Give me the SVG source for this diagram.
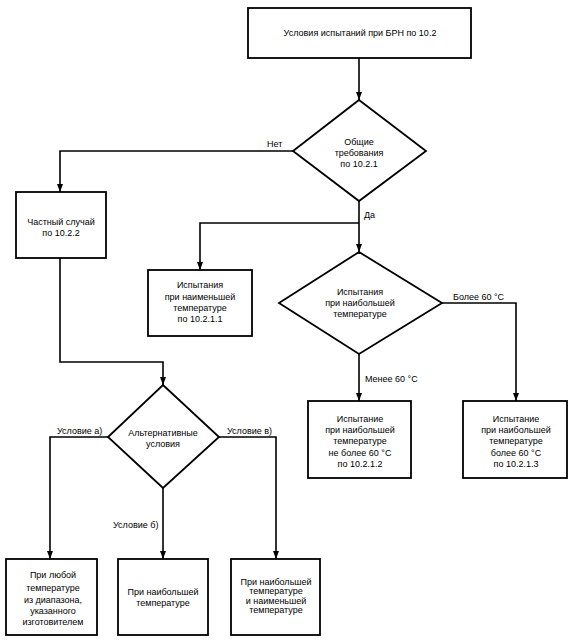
<svg xmlns="http://www.w3.org/2000/svg" width="574" height="642" viewBox="0 0 574 642">
<style>
.n{fill:#fff;stroke:#000;stroke-width:1.8}
.c{fill:none;stroke:#000;stroke-width:1.6}
text{font-family:"Liberation Sans",Arial,sans-serif;font-size:9px;fill:#000}
.m{text-anchor:middle}
</style>
<defs>
<marker id="a" viewBox="0 0 8 6" refX="8" refY="3" markerWidth="8" markerHeight="6" markerUnits="userSpaceOnUse" orient="auto">
<path d="M0,0 L8,3 L0,6 z" fill="#000"/>
</marker>
</defs>
<rect width="574" height="642" fill="#fff"/>
<g id="connectors">
<path class="c" d="M359,58 V100" marker-end="url(#a)"/>
<path class="c" d="M293,151 H60 V192" marker-end="url(#a)"/>
<path class="c" d="M359,201 V252" marker-end="url(#a)"/>
<path class="c" d="M359,223 H200 V270" marker-end="url(#a)"/>
<path class="c" d="M442,303 H516 V401" marker-end="url(#a)"/>
<path class="c" d="M359,354 V401" marker-end="url(#a)"/>
<path class="c" d="M60,258 V362 H163 V385" marker-end="url(#a)"/>
<path class="c" d="M108,437 H50 V559" marker-end="url(#a)"/>
<path class="c" d="M163,488 V559" marker-end="url(#a)"/>
<path class="c" d="M219,437 H276 V559" marker-end="url(#a)"/>
<text x="267" y="147">Нет</text>
<text x="364" y="218">Да</text>
<text x="453" y="300">Более 60 °C</text>
<text x="365" y="382">Менее 60 °C</text>
<text x="57" y="434">Условие а)</text>
<text x="227" y="434">Условие в)</text>
<text x="113" y="528">Условие б)</text>
</g>
<g id="n_top">
<rect class="n" x="248" y="8" width="223" height="50"/>
<text class="m" x="360" y="36">Условия испытаний при БРН по 10.2</text>
</g>
<g id="d_general">
<polygon class="n" points="359,100 426,151 359,201 293,151"/>
<text class="m" x="359" y="145">Общие</text>
<text class="m" x="359" y="156">требования</text>
<text class="m" x="359" y="167">по 10.2.1</text>
</g>
<g id="n_private">
<rect class="n" x="16" y="192" width="90" height="66"/>
<text class="m" x="61" y="225">Частный случай</text>
<text class="m" x="61" y="236">по 10.2.2</text>
</g>
<g id="n_min">
<rect class="n" x="148" y="270" width="104" height="66"/>
<text class="m" x="200" y="288">Испытания</text>
<text class="m" x="200" y="300">при наименьшей</text>
<text class="m" x="200" y="311">температуре</text>
<text class="m" x="200" y="322">по 10.2.1.1</text>
</g>
<g id="d_max">
<polygon class="n" points="359,252 442,303 359,354 279,303"/>
<text class="m" x="360" y="295">Испытания</text>
<text class="m" x="360" y="306">при наибольшей</text>
<text class="m" x="360" y="317">температуре</text>
</g>
<g id="n_less60">
<rect class="n" x="308" y="401" width="103" height="77"/>
<text class="m" x="360" y="422">Испытание</text>
<text class="m" x="360" y="433">при наибольшей</text>
<text class="m" x="360" y="444">температуре</text>
<text class="m" x="360" y="456">не более 60 °C</text>
<text class="m" x="360" y="467">по 10.2.1.2</text>
</g>
<g id="n_more60">
<rect class="n" x="463" y="401" width="104" height="77"/>
<text class="m" x="516" y="422">Испытание</text>
<text class="m" x="516" y="433">при наибольшей</text>
<text class="m" x="516" y="444">температуре</text>
<text class="m" x="516" y="456">более 60 °C</text>
<text class="m" x="516" y="467">по 10.2.1.3</text>
</g>
<g id="d_alt">
<polygon class="n" points="163,385 219,437 163,488 108,437"/>
<text class="m" x="163" y="436">Альтернативные</text>
<text class="m" x="163" y="447">условия</text>
</g>
<g id="n_any">
<rect class="n" x="6" y="559" width="91" height="76"/>
<text class="m" x="53" y="578">При любой</text>
<text class="m" x="53" y="591">температуре</text>
<text class="m" x="53" y="603">из диапазона,</text>
<text class="m" x="53" y="614">указанного</text>
<text class="m" x="53" y="625">изготовителем</text>
</g>
<g id="n_maxonly">
<rect class="n" x="118" y="559" width="90" height="76"/>
<text class="m" x="163" y="595">При наибольшей</text>
<text class="m" x="163" y="606">температуре</text>
</g>
<g id="n_maxmin">
<rect class="n" x="231" y="559" width="89" height="76"/>
<text class="m" x="276" y="585">При наибольшей</text>
<text class="m" x="276" y="594">температуре</text>
<text class="m" x="276" y="604">и наименьшей</text>
<text class="m" x="276" y="613">температуре</text>
</g>
</svg>
